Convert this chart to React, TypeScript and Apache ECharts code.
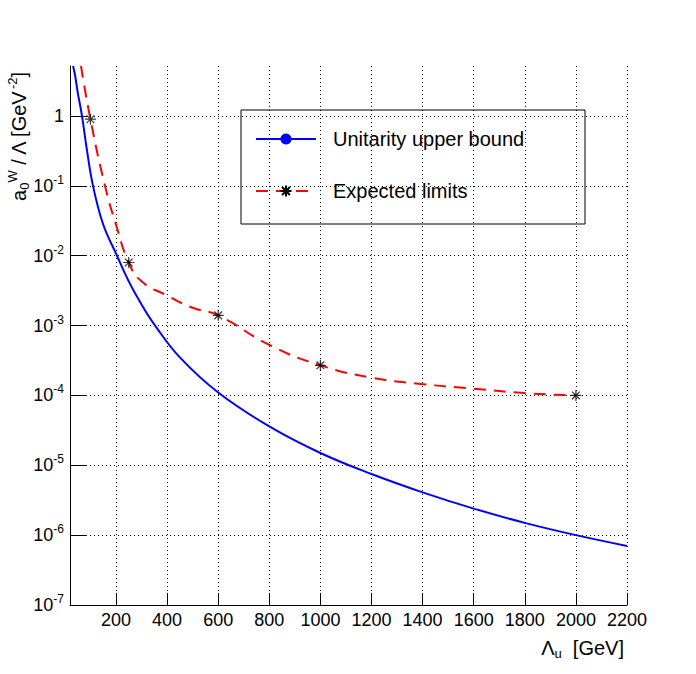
import { useEffect, useRef } from "react"
import * as echarts from "echarts"

const unitarityX = [32, 40, 50, 67, 85, 110, 150, 204, 250, 300, 353, 450, 600, 800, 1000, 1200, 1400, 1600, 1800, 2000, 2200]
const unitarityY = [5.2, 3.8, 2.2, 1, 0.35, 0.1, 0.028, 0.01, 4.3e-3, 2e-3, 1e-3, 3.5e-4, 1.1e-4, 3.6e-5, 1.5e-5, 7.5e-6, 4.1e-6, 2.4e-6, 1.5e-6, 1e-6, 7e-7]
const expectedX = [63, 100, 157, 200, 250, 300, 400, 500, 600, 800, 1000, 1200, 1400, 1600, 1800, 2000]
const expectedY = [5.2, 0.9, 0.1, 0.028, 8e-3, 4.3e-3, 2.7e-3, 1.8e-3, 1.4e-3, 5.3e-4, 2.7e-4, 1.8e-4, 1.45e-4, 1.25e-4, 1.08e-4, 1e-4]
const starX = [100, 250, 600, 1000, 2000]
const starY = [0.9, 8e-3, 1.4e-3, 2.7e-4, 1e-4]
const xTicks = [200, 400, 600, 800, 1000, 1200, 1400, 1600, 1800, 2000, 2200]
const yTicks = [1e-7, 1e-6, 1e-5, 1e-4, 1e-3, 1e-2, 1e-1, 1]

const star = "path://M0,-10L0,10M-10,0L10,0M-7,-7L7,7M-7,7L7,-7"
const font = "Liberation Sans"

export default function App() {
  const ref = useRef<HTMLDivElement>(null)

  useEffect(() => {
    if (!ref.current) return
    const chart = echarts.init(ref.current, null, { renderer: "svg" })
    chart.setOption({
      animation: false,
      backgroundColor: "#fff",
      grid: { left: 70, right: 69, top: 66, bottom: 69 },
      xAxis: {
        type: "value",
        min: 20,
        max: 2200,
        axisLine: { onZero: false, lineStyle: { color: "#000" } },
        axisTick: { inside: true, length: 12, customValues: xTicks, lineStyle: { color: "#000" } },
        axisLabel: { customValues: xTicks, color: "#000", fontSize: 18, fontFamily: font, margin: 6, formatter: (v: number) => String(v) },
        splitLine: { show: true, lineStyle: { color: "#000", type: [1, 3], width: 1 } },
      },
      yAxis: {
        type: "log",
        min: 1e-7,
        max: 5.2,
        axisLine: { lineStyle: { color: "#000" } },
        axisTick: { inside: true, length: 16, customValues: yTicks, lineStyle: { color: "#000" } },
        axisLabel: {
          customValues: yTicks,
          color: "#000",
          fontSize: 18,
          fontFamily: font,
          margin: 6,
          formatter: (v: number) => {
            const e = Math.round(Math.log10(v))
            return e === 0 ? "1" : `10{s|${e}}`
          },
          rich: { s: { fontSize: 12, verticalAlign: "top", padding: [0, 0, 12, 0], fontFamily: font, color: "#000" } },
        },
        splitLine: { show: true, lineStyle: { color: "#000", type: [1, 3], width: 1 } },
      },
      legend: {
        orient: "vertical",
        left: 250,
        top: 124,
        itemGap: 32,
        itemWidth: 60,
        itemHeight: 14,
        textStyle: { fontSize: 20, fontFamily: font, color: "#000", padding: [0, 0, 0, 12] },
        data: ["Unitarity upper bound", "Expected limits"],
      },
      graphic: [
        {
          type: "rect",
          shape: { x: 241, y: 110, width: 344, height: 114 },
          style: { fill: "none", stroke: "#000", lineWidth: 1 },
          z: -1,
        },
        {
          type: "text",
          left: 6,
          top: 72,
          rotation: Math.PI / 2,
          style: {
            text: "a{sub|0}{sup|W} / Λ [GeV{sup|-2}]",
            font: `20px "${font}"`,
            fill: "#000",
            rich: {
              sub: { fontSize: 13, fontFamily: font, verticalAlign: "bottom", padding: [10, 0, 0, 0] },
              sup: { fontSize: 13, fontFamily: font, verticalAlign: "top", padding: [0, 0, 12, 0] },
            },
          },
        },
        {
          type: "text",
          right: 72,
          top: 638,
          style: {
            text: "Λ{sub|u}  [GeV]",
            font: `20px "${font}"`,
            fill: "#000",
            rich: { sub: { fontSize: 13, fontFamily: font, verticalAlign: "bottom", padding: [10, 0, 0, 0] } },
          },
        },
      ],
      series: [
        {
          name: "Unitarity upper bound",
          type: "line",
          smooth: 0.4,
          symbol: "none",
          clip: true,
          data: unitarityX.map((x, i) => [x, unitarityY[i]]),
          lineStyle: { color: "#0000ff", width: 2 },
          itemStyle: { color: "#0000ff" },
        },
        {
          name: "Expected limits",
          type: "line",
          smooth: true,
          showSymbol: false,
          symbol: star,
          symbolSize: 12,
          clip: true,
          data: expectedX.map((x, i) => [x, expectedY[i]]),
          lineStyle: { color: "#ff0000", width: 2, type: [12, 8] },
          itemStyle: { color: "#000", borderColor: "#000", borderWidth: 1.2 },
        },
        {
          name: "stars",
          type: "scatter",
          symbol: star,
          symbolSize: 11,
          data: starX.map((x, i) => [x, starY[i]]),
          itemStyle: { color: "none", borderColor: "#000", borderWidth: 1.2 },
          z: 5,
        },
      ],
    })
    return () => chart.dispose()
  }, [])

  return <div ref={ref} style={{ position: "fixed", left: 0, top: 0, width: 696, height: 674 }} />
}
